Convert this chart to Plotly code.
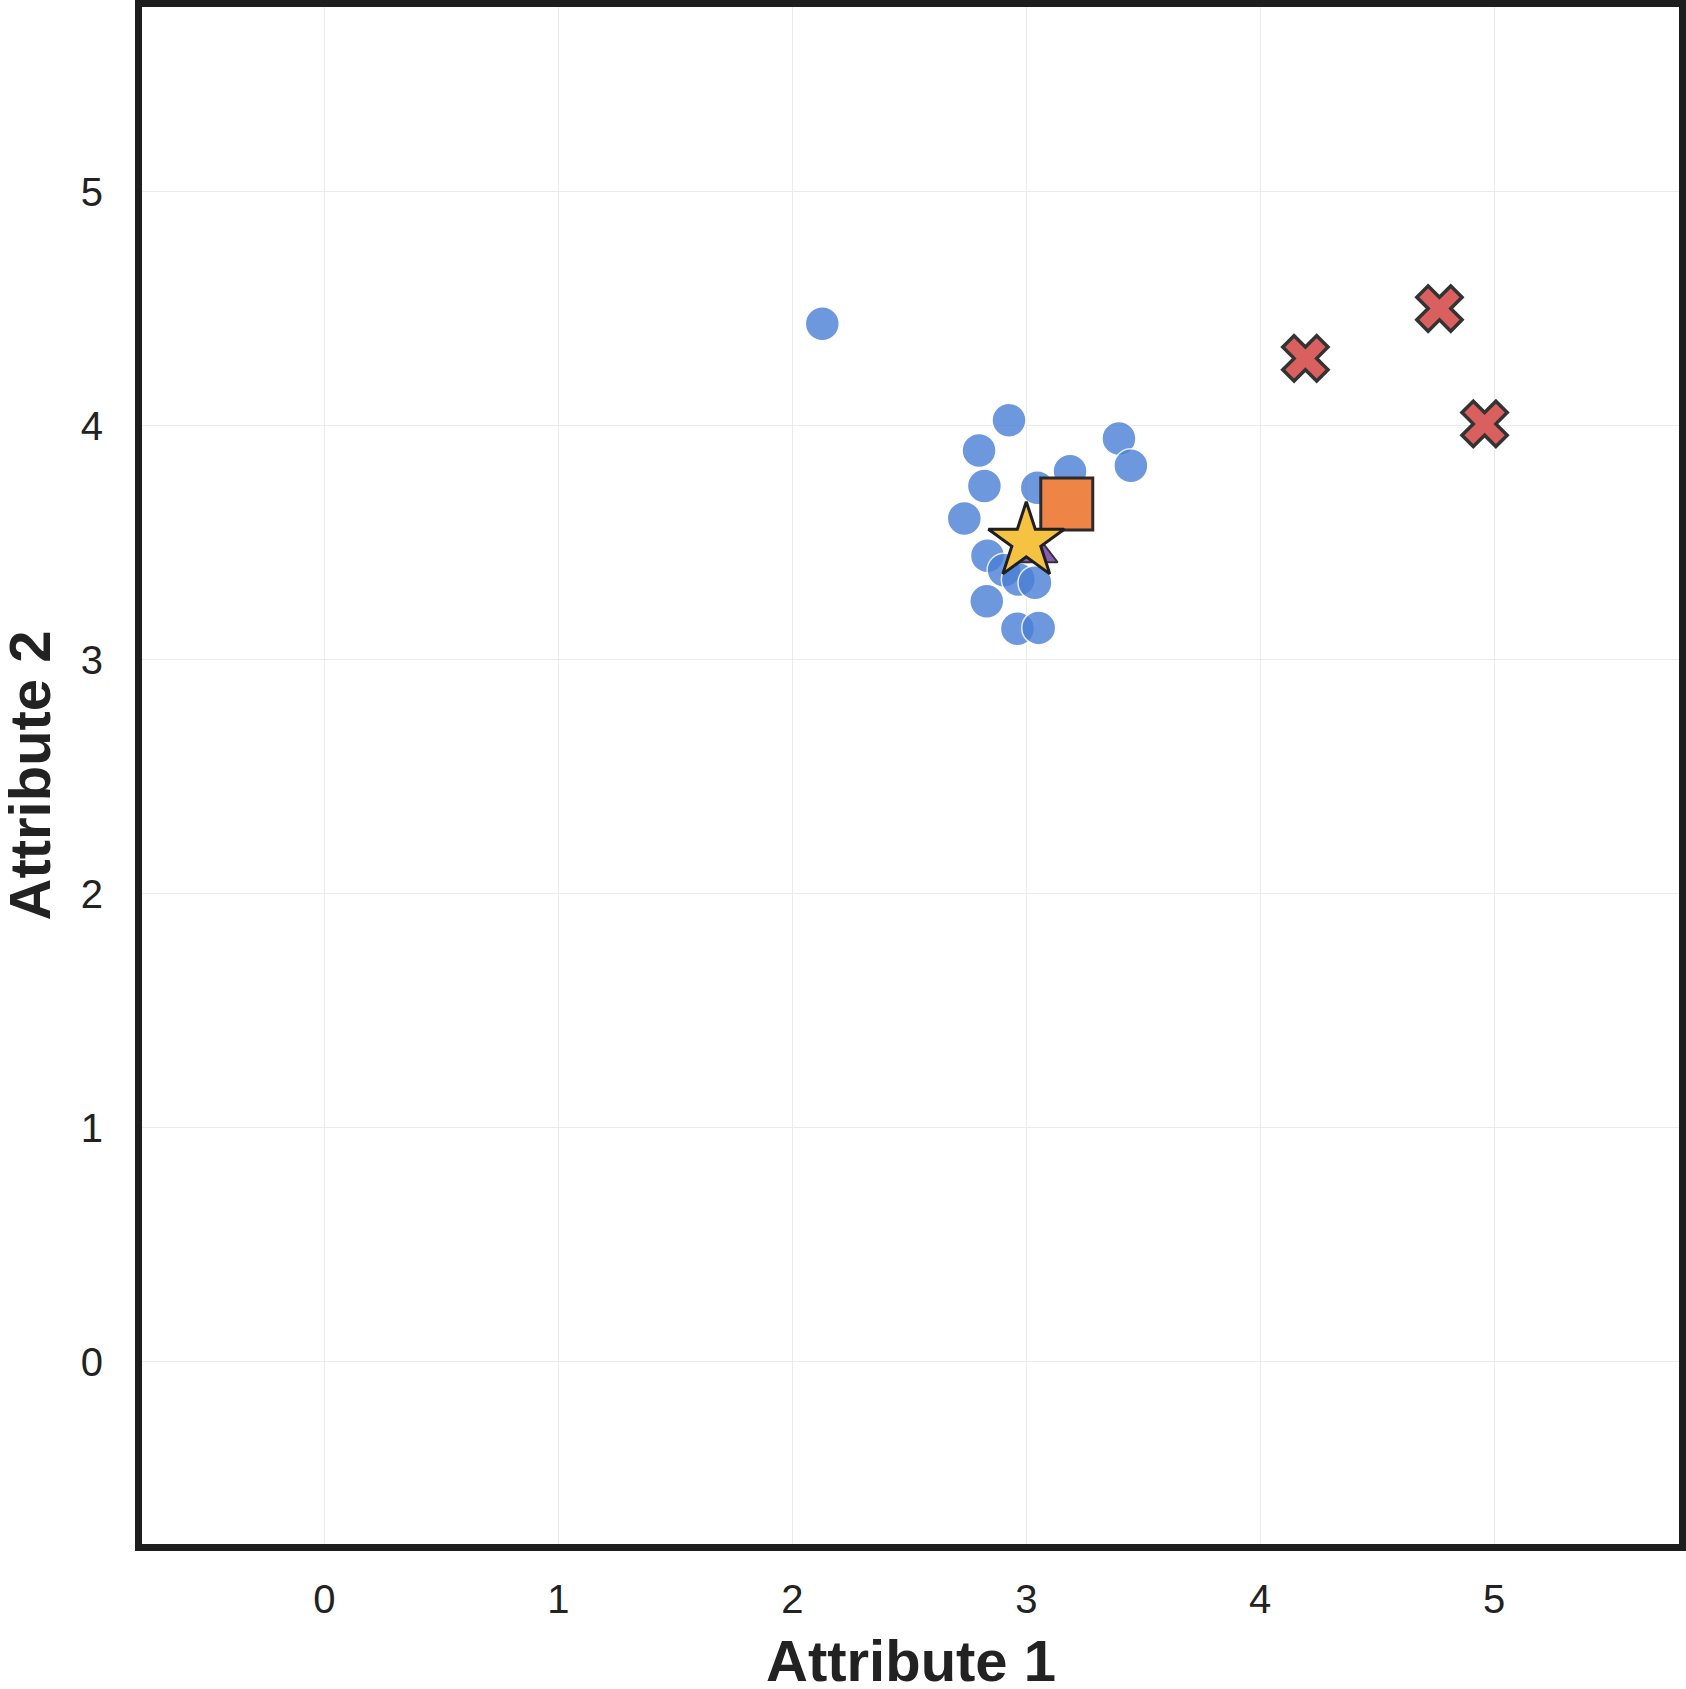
import plotly.graph_objects as go

# Data
cluster_x = [2.926, 2.798, 3.187, 3.396, 3.447, 2.821, 3.047, 2.735, 2.834, 2.905,
             2.966, 3.037, 2.831, 2.962, 3.053, 2.128]
cluster_y = [4.024, 3.894, 3.806, 3.946, 3.829, 3.742, 3.735, 3.604, 3.444, 3.382,
             3.343, 3.329, 3.250, 3.132, 3.136, 4.436]

outlier_x = [4.193, 4.766, 4.959]
outlier_y = [4.288, 4.501, 4.008]

tri_x = [3.045]
tri_y = [3.455]

centroid_x = [3.173]
centroid_y = [3.666]

query_x = [3.0]
query_y = [3.505]

tick_vals = [0, 1, 2, 3, 4, 5]
tick_text = ["0", "1", "2", "3", "4", "5"]
x_label = "Attribute 1"
y_label = "Attribute 2"
axis_range = [-0.78, 5.79]

fig = go.Figure()

fig.add_trace(go.Scatter(
    x=cluster_x, y=cluster_y, mode="markers",
    marker=dict(symbol="circle", size=34, color="#4A7FD6", opacity=0.8,
                line=dict(color="white", width=1.5)),
    showlegend=False))

fig.add_trace(go.Scatter(
    x=outlier_x, y=outlier_y, mode="markers",
    marker=dict(symbol="x", size=40, color="#D9605E",
                line=dict(color="#333333", width=3.5)),
    showlegend=False))

fig.add_trace(go.Scatter(
    x=tri_x, y=tri_y, mode="markers",
    marker=dict(symbol="triangle-up", size=36, color="#8A5CB8",
                line=dict(color="#333333", width=2)),
    showlegend=False))

fig.add_trace(go.Scatter(
    x=centroid_x, y=centroid_y, mode="markers",
    marker=dict(symbol="square", size=52, color="#EE8547",
                line=dict(color="#2b2b2b", width=3)),
    showlegend=False))

fig.add_trace(go.Scatter(
    x=query_x, y=query_y, mode="markers",
    marker=dict(symbol="star", size=57, color="#F5C242",
                line=dict(color="#1f1f1f", width=3)),
    showlegend=False))

axis_common = dict(
    range=axis_range, tickvals=tick_vals, ticktext=tick_text,
    showgrid=True, gridcolor="#ebebeb", gridwidth=1, zeroline=False,
    showline=True, linewidth=7, linecolor="#1e1e1e", mirror=True,
    ticks="outside", tickcolor="rgba(0,0,0,0)",
    automargin=False,
    tickfont=dict(family="Liberation Sans, Arial, sans-serif", size=40, color="#222222"),
)

title_font = dict(family="Liberation Sans, Arial, sans-serif", size=58,
                  color="#222222", weight="bold")

fig.update_layout(
    width=1686, height=1689,
    margin=dict(l=142, r=7, t=7, b=145),
    plot_bgcolor="white", paper_bgcolor="white",
    xaxis=dict(**axis_common, ticklen=14),
    yaxis=dict(**axis_common, ticklen=24),
    annotations=[
        dict(text=x_label, xref="paper", yref="paper", x=0.5, y=0,
             xanchor="center", yanchor="middle", yshift=-116,
             showarrow=False, font=title_font),
        dict(text=y_label, xref="paper", yref="paper", x=0, y=0.5,
             xanchor="center", yanchor="middle", xshift=-113, textangle=-90,
             showarrow=False, font=title_font),
    ],
)

fig.write_html("out.html")
